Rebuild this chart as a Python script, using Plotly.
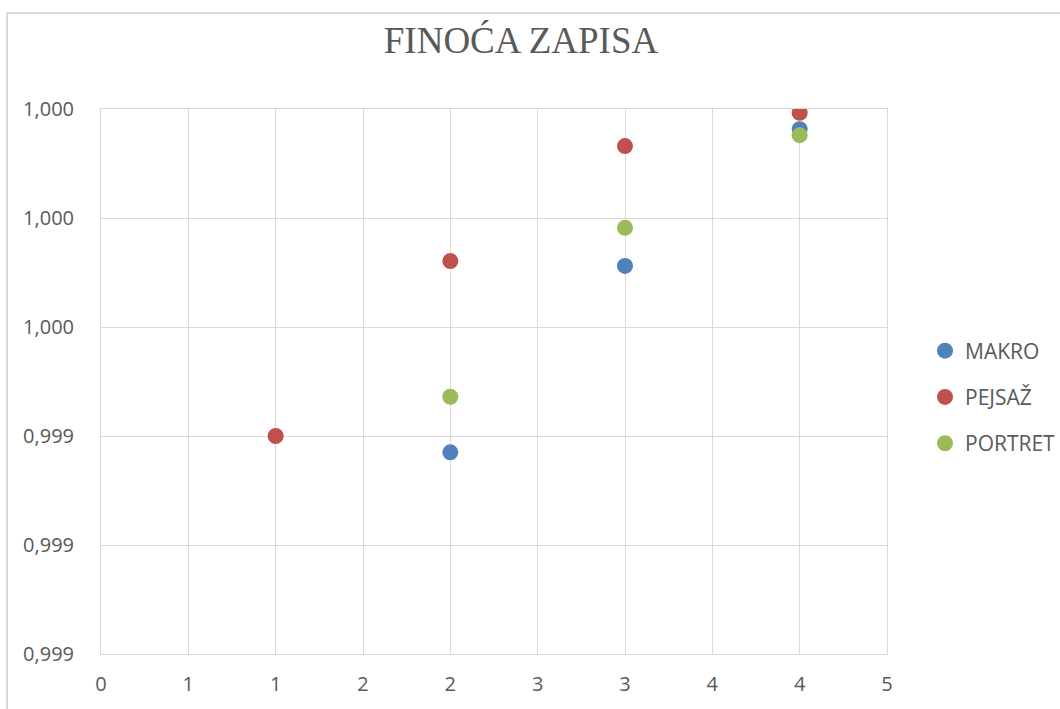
import plotly.graph_objects as go

# Series values (x = sample index, y = recording fineness)
makro_x = [2, 3, 4]
makro_y = [0.99937, 0.999712, 0.999963]

pejsaz_x = [1, 2, 3, 4]
pejsaz_y = [0.9994, 0.999721, 0.999932, 0.999993]

portret_x = [2, 3, 4]
portret_y = [0.999472, 0.999782, 0.999952]

series_names = ["MAKRO", "PEJSAŽ", "PORTRET"]

# Axis ticks and their displayed labels
x_tick_vals = [0, 0.5, 1, 1.5, 2, 2.5, 3, 3.5, 4, 4.5]
x_tick_labels = ["0", "1", "1", "2", "2", "3", "3", "4", "4", "5"]
y_tick_vals = [0.999, 0.9992, 0.9994, 0.9996, 0.9998, 1.0]
y_tick_labels = ["0,999", "0,999", "0,999", "1,000", "1,000", "1,000"]

colors = ["#4F81BD", "#C0504D", "#9BBB59"]
text_color = "#595959"
grid_color = "#D9D9D9"
tick_font = dict(family="Open Sans, Liberation Sans, sans-serif", size=20, color=text_color)

fig = go.Figure()
for name, xs, ys, col in zip(series_names,
                             [makro_x, pejsaz_x, portret_x],
                             [makro_y, pejsaz_y, portret_y],
                             colors):
    fig.add_trace(go.Scatter(
        x=xs, y=ys, mode="markers", name=name, legendgroup=name,
        marker=dict(size=16, color=col, line=dict(width=0)),
    ))

W, H = 1060, 709
L, R, T, B = 101, 173, 109, 55
pw, ph = W - L - R, H - T - B


def px_x(p):
    return (p - L) / pw


def px_y(p):
    return (H - B - p) / ph


fig.update_layout(
    width=W, height=H,
    margin=dict(l=L, r=R, t=T, b=B, autoexpand=False),
    paper_bgcolor="white", plot_bgcolor="white",
    title=dict(text="FINOĆA ZAPISA", x=521 / W, xanchor="center",
               y=1 - 40 / H, yanchor="middle", yref="container",
               font=dict(family="Liberation Serif, Times New Roman, serif", size=37, color=text_color)),
    xaxis=dict(range=[0, 4.5], tickvals=x_tick_vals, ticktext=x_tick_labels,
               showgrid=True, gridcolor=grid_color, gridwidth=1,
               zeroline=False, showline=True, linecolor=grid_color, linewidth=1, mirror=True,
               ticks="", tickfont=tick_font, ticklabelstandoff=12),
    yaxis=dict(range=[0.999, 1.0], tickvals=y_tick_vals, ticktext=y_tick_labels,
               showgrid=True, gridcolor=grid_color, gridwidth=1,
               zeroline=False, showline=True, linecolor=grid_color, linewidth=1, mirror=True,
               ticks="", tickfont=tick_font, ticklabelstandoff=22),
    legend=dict(x=px_x(925), xanchor="left", y=px_y(397), yanchor="middle",
                font=dict(family="Open Sans, Liberation Sans, sans-serif", size=21, color=text_color),
                tracegroupgap=16, itemwidth=30, bgcolor="rgba(0,0,0,0)"),
    showlegend=True,
    shapes=[
        # chart-area frame (left and top edges)
        dict(type="line", xref="paper", yref="paper",
             x0=px_x(7), x1=px_x(7), y0=px_y(13), y1=px_y(720),
             line=dict(color=grid_color, width=2)),
        dict(type="line", xref="paper", yref="paper",
             x0=px_x(7), x1=px_x(1070), y0=px_y(13), y1=px_y(13),
             line=dict(color=grid_color, width=2)),
    ],
)

fig.write_html("out.html")
